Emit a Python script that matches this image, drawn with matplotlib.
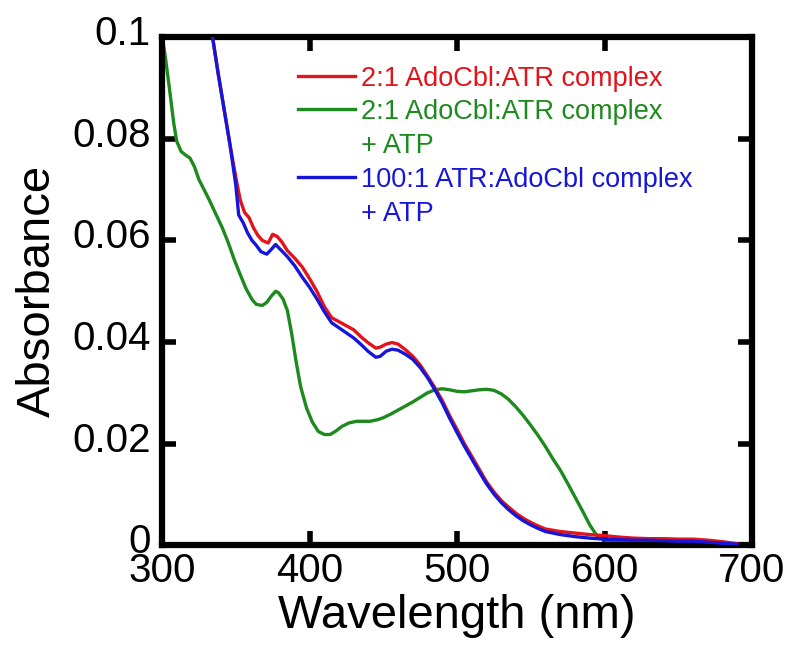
import numpy as np
import matplotlib
matplotlib.use("Agg")
import matplotlib.pyplot as plt
from matplotlib.ticker import FixedLocator, FuncFormatter
from matplotlib.transforms import ScaledTranslation

plt.rcParams["font.family"] = ["Liberation Sans", "DejaVu Sans"]

# 2:1 AdoCbl:ATR complex
red_wl = [334, 338, 342, 346, 350, 353, 356, 359, 362, 365, 368, 372, 375, 378,
          381, 385, 390, 395, 400, 405, 410, 415, 420, 425, 430, 435, 440, 445,
          448, 452, 456, 460, 465, 470, 475, 480, 485, 490, 495, 500, 505, 510,
          515, 520, 525, 530, 535, 540, 545, 550, 555, 560, 570, 580, 590, 600,
          610, 620, 630, 640, 650, 660, 670, 680, 690]
red_abs = [0.1005, 0.093, 0.086, 0.079, 0.0725, 0.068, 0.0655, 0.0645, 0.0625,
           0.061, 0.060, 0.0595, 0.0612, 0.0608, 0.0598, 0.058, 0.0565, 0.0548,
           0.0525, 0.050, 0.047, 0.0448, 0.0440, 0.0432, 0.0424, 0.0410, 0.0398,
           0.0388, 0.0390, 0.0396, 0.0399, 0.0396, 0.0385, 0.0372, 0.0355,
           0.0333, 0.031, 0.0285, 0.0255, 0.0228, 0.0200, 0.0175, 0.015, 0.0125,
           0.0105, 0.0088, 0.0075, 0.0063, 0.0053, 0.0045, 0.0038, 0.0032,
           0.0027, 0.0024, 0.0021, 0.0019, 0.0016, 0.0014, 0.0013, 0.0013,
           0.0012, 0.0012, 0.0010, 0.0007, 0.0003]

# 2:1 AdoCbl:ATR complex + ATP
green_wl = [300, 302, 305, 308, 310, 313, 316, 319, 322, 325, 328, 332, 336, 341,
            345, 349, 353, 357, 361, 364, 368, 371, 374, 377, 379, 382, 385, 388,
            391, 394, 398, 402, 406, 410, 414, 418, 422, 427, 432, 437, 441, 446,
            450, 455, 460, 465, 470, 475, 480, 485, 490, 495, 500, 505, 510, 515,
            520, 525, 530, 535, 540, 545, 550, 555, 560, 565, 570, 575, 580, 585,
            590, 595, 600, 620, 650, 690]
green_abs = [0.1, 0.0967, 0.090, 0.083, 0.0795, 0.0775, 0.0768, 0.0762, 0.0745,
             0.072, 0.0703, 0.068, 0.0655, 0.0624, 0.0595, 0.0562, 0.0533,
             0.0505, 0.0484, 0.0474, 0.0472, 0.0478, 0.0490, 0.0500, 0.0497,
             0.0485, 0.0462, 0.0415, 0.0360, 0.0312, 0.0270, 0.0242, 0.0224,
             0.0218, 0.0218, 0.0225, 0.0234, 0.0241, 0.0244, 0.0244, 0.0244,
             0.0247, 0.0251, 0.0258, 0.0266, 0.0274, 0.0282, 0.0291, 0.0300,
             0.0306, 0.0308, 0.0306, 0.0303, 0.0302, 0.0304, 0.0306, 0.0307,
             0.0305, 0.0298, 0.0287, 0.0272, 0.0255, 0.0236, 0.0216, 0.0194,
             0.0170, 0.0148, 0.0122, 0.0095, 0.0068, 0.0040, 0.0018, 0.0010,
             0.0008, 0.0006, 0.0003]

# 100:1 ATR:AdoCbl complex + ATP
blue_wl = [334, 338, 342, 346, 350, 352, 355, 358, 361, 364, 367, 371, 374, 377,
           381, 385, 390, 395, 400, 405, 410, 415, 420, 425, 430, 435, 440, 445,
           448, 452, 456, 460, 465, 470, 475, 480, 485, 490, 495, 500, 505, 510,
           515, 520, 525, 530, 535, 540, 545, 550, 555, 560, 570, 580, 590, 600,
           610, 620, 630, 640, 650, 660, 670, 680, 690]
blue_abs = [0.1005, 0.093, 0.086, 0.079, 0.071, 0.065, 0.0635, 0.0615, 0.0600,
            0.0590, 0.0578, 0.0573, 0.0582, 0.0592, 0.0580, 0.0568, 0.0550,
            0.0528, 0.0508, 0.0485, 0.0460, 0.0438, 0.0428, 0.0418, 0.0408,
            0.0395, 0.0381, 0.0370, 0.0372, 0.0382, 0.0386, 0.0384, 0.0376,
            0.0366, 0.0350, 0.0330, 0.0306, 0.0280, 0.0250, 0.0222, 0.0195,
            0.0170, 0.0145, 0.0121, 0.0101, 0.0084, 0.0070, 0.0058, 0.0048,
            0.0040, 0.0033, 0.0027, 0.0021, 0.0017, 0.0014, 0.0012, 0.0011,
            0.0010, 0.0010, 0.0009, 0.0008, 0.0008, 0.0006, 0.0004, 0.0002]

labels = [["2:1 AdoCbl:ATR complex"],
          ["2:1 AdoCbl:ATR complex", "+ ATP"],
          ["100:1 ATR:AdoCbl complex", "+ ATP"]]
colors = ["#e3131b", "#1d8a1d", "#1616d8"]

x_ticks = [300, 400, 500, 600, 700]
y_ticks = [0, 0.02, 0.04, 0.06, 0.08, 0.1]

fig = plt.figure(figsize=(8, 6.53), dpi=100)
ax = fig.add_axes([0.2025, 0.165, 0.7375, 0.778])

lw = 2.4
ax.plot(green_wl, green_abs, color=colors[1], lw=lw, zorder=2)
ax.plot(red_wl, red_abs, color=colors[0], lw=lw, zorder=3)
ax.plot(blue_wl, blue_abs, color=colors[2], lw=lw, zorder=4)

ax.set_xlim(300, 700)
ax.set_ylim(0, 0.1)
ax.xaxis.set_major_locator(FixedLocator(x_ticks))
ax.yaxis.set_major_locator(FixedLocator(y_ticks))
ax.yaxis.set_major_formatter(FuncFormatter(lambda v, p: "%g" % v))

for s in ax.spines.values():
    s.set_linewidth(4.5)
ax.tick_params(direction="in", length=10, width=4, top=True, right=True,
               labelsize=29)
ax.tick_params(axis="x", pad=5)
ax.tick_params(axis="y", pad=8)
# y labels in the original sit a little above their ticks
for t in ax.get_yticklabels():
    t.set_transform(t.get_transform() + ScaledTranslation(0, 5 / 72, fig.dpi_scale_trans))

ax.set_xlabel("Wavelength (nm)", fontsize=34, labelpad=3)
ax.set_ylabel("Absorbance", fontsize=34, labelpad=9)

# legend drawn by hand: line on the first text row, second rows below
row_h = 0.0665
starts = [0.924, 0.859, 0.725]
for lines, c, y0 in zip(labels, colors, starts):
    ax.plot([0.23, 0.327], [y0, y0], transform=ax.transAxes, color=c, lw=lw,
            clip_on=False)
    for i, s in enumerate(lines):
        ax.text(0.338, y0 - i * row_h, s, transform=ax.transAxes, color=c,
                fontsize=19.5, va="center_baseline", ha="left")

fig.savefig("out.png", dpi=100)
